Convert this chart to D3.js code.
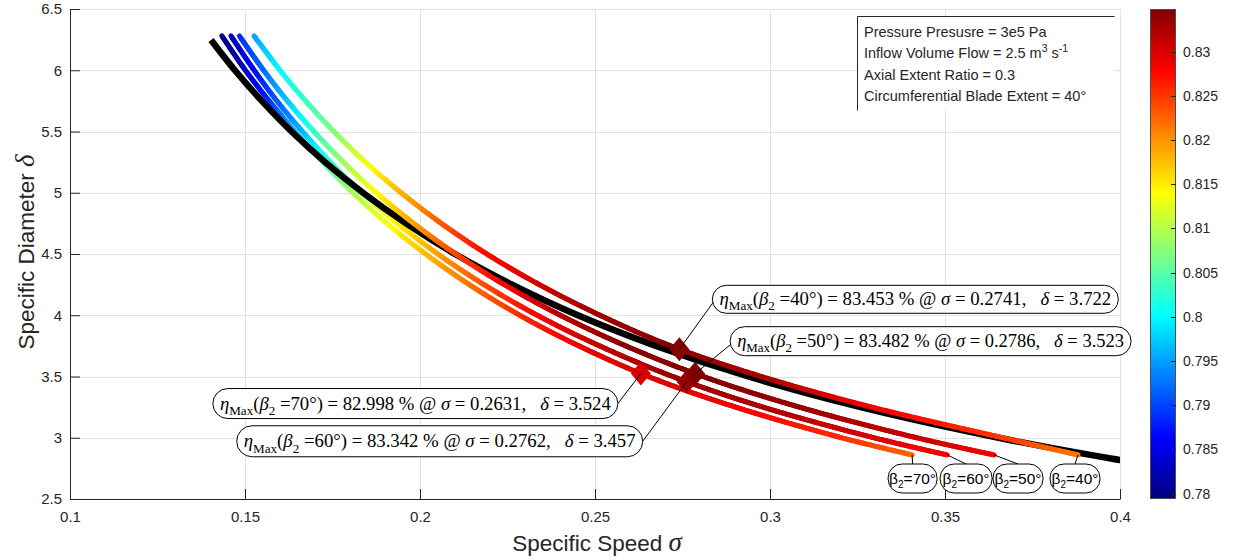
<!DOCTYPE html>
<html>
<head>
<meta charset="utf-8">
<script src="https://cdn.jsdelivr.net/npm/d3@7"></script>
<style>
  body { margin: 0; background: #fff; }
  svg { display: block; font-family: "Liberation Sans", Arial, Helvetica, sans-serif; }
</style>
</head>
<body>
<svg id="chart" width="1239" height="560"></svg>
<script>
// ---------------- data ----------------
// Outlet blade angles of the four rotor families
const betaAngles = [70, 60, 50, 40];

// Specific diameter stations shared by every rotor family
const deltaGrid = [6.28, 6.0, 5.75, 5.5, 5.25, 5.0, 4.75, 4.5, 4.25, 4.0, 3.75, 3.5, 3.25, 3.0, 2.86];

// Specific speed at each station
const sigma70 = [0.1434, 0.1501, 0.1569, 0.1643, 0.1723, 0.1809, 0.1906, 0.2016, 0.2141, 0.2285, 0.2454, 0.2652, 0.2902, 0.3205, 0.3406];
const sigma60 = [0.1460, 0.1526, 0.1591, 0.1664, 0.1744, 0.1834, 0.1936, 0.2051, 0.2183, 0.2335, 0.2513, 0.2722, 0.2980, 0.3297, 0.3506];
const sigma50 = [0.1484, 0.1553, 0.1621, 0.1697, 0.1781, 0.1875, 0.1982, 0.2102, 0.2241, 0.2401, 0.2588, 0.2809, 0.3084, 0.3419, 0.3640];
const sigma40 = [0.1526, 0.1600, 0.1673, 0.1754, 0.1844, 0.1946, 0.2061, 0.2191, 0.2341, 0.2514, 0.2716, 0.2975, 0.3290, 0.3665, 0.3880];

// Total-to-static efficiency at each station
const eta70 = [0.7795, 0.7835, 0.7885, 0.7965, 0.8035, 0.8090, 0.8135, 0.8175, 0.8215, 0.8255, 0.8285, 0.8299, 0.8285, 0.8255, 0.8225];
const eta60 = [0.7825, 0.7865, 0.7910, 0.7960, 0.8025, 0.8095, 0.8145, 0.8190, 0.8235, 0.8280, 0.8312, 0.8333, 0.8325, 0.8300, 0.8280];
const eta50 = [0.7885, 0.7920, 0.7970, 0.8025, 0.8085, 0.8140, 0.8190, 0.8240, 0.8280, 0.8318, 0.8340, 0.8348, 0.8335, 0.8310, 0.8285];
const eta40 = [0.7950, 0.8000, 0.8030, 0.8070, 0.8130, 0.8180, 0.8230, 0.8275, 0.8305, 0.8330, 0.8344, 0.8325, 0.8285, 0.8250, 0.8215];

// Cordier line
const cordierSigma = [0.1403, 0.1471, 0.1548, 0.1633, 0.1729, 0.1837, 0.1960, 0.2100, 0.2263, 0.2451, 0.2674, 0.2938, 0.3259, 0.3653, 0.4000, 0.4080];
const cordierDelta = [6.247, 6.0, 5.75, 5.5, 5.25, 5.0, 4.75, 4.5, 4.25, 4.0, 3.75, 3.5, 3.25, 3.0, 2.818, 2.78];

// Best-efficiency points
const peakEta   = [82.998, 83.342, 83.482, 83.453];
const peakSigma = [0.2631, 0.2762, 0.2786, 0.2741];
const peakDelta = [3.524, 3.457, 3.523, 3.722];

// Axis and colour bar ticks
const xTicks  = [0.1, 0.15, 0.2, 0.25, 0.3, 0.35, 0.4];
const yTicks  = [2.5, 3, 3.5, 4, 4.5, 5, 5.5, 6, 6.5];
const cbTicks = [0.78, 0.785, 0.79, 0.795, 0.8, 0.805, 0.81, 0.815, 0.82, 0.825, 0.83];
const etaLimits = [0.7794, 0.83482];

// Operating-point text
const infoLines = [
  [["Pressure Presusre = 3e5 Pa", ""]],
  [["Inflow Volume Flow = 2.5 m", ""], ["3", "sup"], [" s", ""], ["-1", "sup"]],
  [["Axial Extent Ratio = 0.3", ""]],
  [["Circumferential Blade Extent = 40\u00b0", ""]]
];

// ---------------- layout ----------------
const plot = { left: 70, right: 1120, top: 9, bottom: 499 };
const SANS = '"Liberation Sans", Arial, Helvetica, sans-serif';
const SERIF = '"Liberation Serif", "Times New Roman", serif';
const INK = "#262626";

const x = d3.scaleLinear().domain([0.1, 0.4]).range([plot.left, plot.right]);
const y = d3.scaleLinear().domain([2.5, 6.5]).range([plot.bottom, plot.top]);

// jet colormap
const jetPos = [0, 0.125, 0.375, 0.625, 0.875, 1];
const jetCol = ["#000080", "#0000ff", "#00ffff", "#ffff00", "#ff0000", "#800000"];
const jet = d3.scaleLinear().domain(jetPos).range(jetCol).clamp(true);
const etaNorm = d3.scaleLinear().domain(etaLimits).range([0, 1]).clamp(true);
const colorOf = v => jet(etaNorm(v));

const svg = d3.select("#chart");
const defs = svg.append("defs");
defs.append("clipPath").attr("id", "plotClip").append("rect")
  .attr("x", plot.left).attr("y", plot.top)
  .attr("width", plot.right - plot.left).attr("height", plot.bottom - plot.top);

// ---------------- grid ----------------
const grid = svg.append("g").attr("stroke", "#e2e2e2").attr("stroke-width", 1);
grid.selectAll("line.gx").data(xTicks).join("line").attr("class", "gx")
  .attr("x1", d => Math.round(x(d)) + 0.5).attr("x2", d => Math.round(x(d)) + 0.5)
  .attr("y1", plot.top).attr("y2", plot.bottom);
grid.selectAll("line.gy").data(yTicks).join("line").attr("class", "gy")
  .attr("y1", d => Math.round(y(d)) + 0.5).attr("y2", d => Math.round(y(d)) + 0.5)
  .attr("x1", plot.left).attr("x2", plot.right);

// ---------------- curves ----------------
const curveLayer = svg.append("g").attr("clip-path", "url(#plotClip)");
const families = [
  { beta: 70, sigma: sigma70, eta: eta70 },
  { beta: 60, sigma: sigma60, eta: eta60 },
  { beta: 50, sigma: sigma50, eta: eta50 },
  { beta: 40, sigma: sigma40, eta: eta40 }
];
const smooth = d3.line().curve(d3.curveCatmullRom.alpha(0.5));

// each family is stroked as short pieces so the colour can follow efficiency
function drawFamily(fam) {
  const g = curveLayer.append("g").attr("stroke-linecap", "round").attr("stroke-width", 5);
  const pts = fam.sigma.map((s, i) => [x(s), y(deltaGrid[i])]);
  const guide = g.append("path").attr("d", smooth(pts)).attr("fill", "none").attr("stroke", "none");
  const node = guide.node();
  const len = node.getTotalLength();
  const etaAt = d3.scaleLinear().domain(deltaGrid).range(fam.eta);
  const step = 2;
  const n = Math.ceil(len / step);
  let prev = node.getPointAtLength(0);
  for (let k = 1; k <= n; k++) {
    const p = node.getPointAtLength(Math.min(len, k * step));
    const dMid = y.invert((prev.y + p.y) / 2);
    g.append("line")
      .attr("x1", prev.x).attr("y1", prev.y).attr("x2", p.x).attr("y2", p.y)
      .attr("stroke", colorOf(etaAt(dMid)));
    prev = p;
  }
  guide.remove();
}

function drawCordier() {
  const pts = cordierSigma.map((s, i) => [x(s), y(cordierDelta[i])]);
  curveLayer.append("path").attr("d", smooth(pts))
    .attr("fill", "none").attr("stroke", "#000").attr("stroke-width", 6.5);
}

drawFamily(families[0]);
drawFamily(families[1]);
drawCordier();
drawFamily(families[2]);
drawFamily(families[3]);

// ---------------- axes ----------------
const xAxis = d3.axisBottom(x).tickValues(xTicks).tickSize(-10).tickSizeOuter(0).tickPadding(12)
  .tickFormat(d => String(+d.toFixed(2)));
const yAxis = d3.axisLeft(y).tickValues(yTicks).tickSize(-10).tickSizeOuter(0).tickPadding(8)
  .tickFormat(d => String(+d.toFixed(1)));
function styleAxis(g) {
  g.select(".domain").attr("stroke", INK);
  g.selectAll(".tick line").attr("stroke", INK);
  g.selectAll(".tick text").attr("fill", INK).attr("font-size", 15).attr("font-family", SANS);
}
svg.append("g").attr("transform", `translate(0,${plot.bottom})`).call(xAxis).call(styleAxis);
svg.append("g").attr("transform", `translate(${plot.left},0)`).call(yAxis).call(styleAxis);

// axis titles
const xt = svg.append("text").attr("x", 597).attr("y", 551).attr("text-anchor", "middle")
  .attr("fill", INK).attr("font-size", 22.5).attr("font-family", SANS);
xt.append("tspan").text("Specific Speed ");
xt.append("tspan").attr("font-family", SERIF).attr("font-style", "italic").attr("font-size", 27).text("\u03c3");

const yt = svg.append("text").attr("transform", "translate(34,252) rotate(-90)").attr("text-anchor", "middle")
  .attr("fill", INK).attr("font-size", 22.5).attr("font-family", SANS);
yt.append("tspan").text("Specific Diameter ");
yt.append("tspan").attr("font-family", SERIF).attr("font-style", "italic").attr("font-size", 27).text("\u03b4");

// ---------------- best-efficiency markers and call-outs ----------------
// call-out boxes, offset from each marker (px)
const calloutLayout = [
  { dx: -428, dy: 15, w: 405, h: 30, side: "left" },   // 70
  { dx: -450, dy: 44, w: 406, h: 31, side: "left" },   // 60
  { dx: 35,  dy: -47, w: 401, h: 29, side: "right" },  // 50
  { dx: 33,  dy: -64, w: 406, h: 28, side: "right" }   // 40
];

const markerLayer = svg.append("g");
const calloutLayer = svg.append("g");

function buildPeakText(t, i, fs) {
  t.selectAll("*").remove();
  t.attr("font-size", fs);
  const subShift = fs * 0.28;
  const segs = [
    ["\u03b7", "it"], ["Max", "sub"], ["(", ""], ["\u03b2", "it"], ["2", "sub"],
    [`\u00a0=${betaAngles[i]}\u00b0)\u00a0=\u00a0${peakEta[i].toFixed(3)}\u00a0%\u00a0@\u00a0`, ""],
    ["\u03c3", "it"], [`\u00a0=\u00a0${peakSigma[i].toFixed(4)},\u00a0\u00a0\u00a0`, ""],
    ["\u03b4", "it"], [`\u00a0=\u00a0${peakDelta[i].toFixed(3)}`, ""]
  ];
  let inSub = false;
  segs.forEach(([s, kind]) => {
    const ts = t.append("tspan").text(s);
    if (kind === "it") ts.attr("font-style", "italic");
    if (kind === "sub") {
      ts.attr("font-size", fs * 0.7);
      if (!inSub) ts.attr("dy", subShift);
      inSub = true;
    } else if (inSub) {
      ts.attr("dy", -subShift);
      inSub = false;
    }
  });
}

betaAngles.forEach((b, i) => {
  const mx = x(peakSigma[i]), my = y(peakDelta[i]);
  const L = calloutLayout[i];
  const bx = mx + L.dx, by = my + L.dy;
  // leader line end on the box outline
  const ax = L.side === "left" ? bx + L.w : bx + 1;
  const ay = L.side === "left" ? by + L.h / 2 : by + L.h * 0.6;
  // marker
  markerLayer.append("path")
    .attr("d", "M0,-12L10,0L0,12L-10,0Z")
    .attr("transform", `translate(${mx},${my})`)
    .attr("fill", colorOf(peakEta[i] / 100));
  calloutLayer.append("line").attr("x1", mx).attr("y1", my).attr("x2", ax).attr("y2", ay)
    .attr("stroke", "#000").attr("stroke-width", 1);
  calloutLayer.append("rect").attr("x", bx).attr("y", by).attr("width", L.w).attr("height", L.h)
    .attr("rx", L.h / 2).attr("ry", L.h / 2)
    .attr("fill", "#fff").attr("stroke", "#000").attr("stroke-width", 1);
  const t = calloutLayer.append("text").attr("x", bx + L.w / 2).attr("y", by + L.h * 0.7)
    .attr("text-anchor", "middle").attr("font-family", SERIF).attr("fill", "#000");
  let fs = 18;
  buildPeakText(t, i, fs);
  const target = L.w - 14;
  const len = t.node().getComputedTextLength();
  fs = fs * target / len;
  buildPeakText(t, i, fs);
});

// ---------------- end-of-curve tags ----------------
const tagLayout = [
  { dx: 0.5, w: 49 },   // 70
  { dx: 19,  w: 52 },   // 60
  { dx: 24,  w: 50 },   // 50
  { dx: -3,  w: 50 }    // 40
];
const tagTop = 464, tagH = 29;
const tagLayer = svg.append("g");
families.forEach((fam, i) => {
  const last = fam.sigma.length - 1;
  const ex = x(fam.sigma[last]), ey = y(deltaGrid[last]);
  const L = tagLayout[i];
  const cx = ex + L.dx;
  tagLayer.append("line").attr("x1", ex).attr("y1", ey).attr("x2", cx).attr("y2", tagTop)
    .attr("stroke", "#000").attr("stroke-width", 1);
  tagLayer.append("rect").attr("x", cx - L.w / 2).attr("y", tagTop).attr("width", L.w).attr("height", tagH)
    .attr("rx", 14).attr("ry", 14).attr("fill", "#fff").attr("stroke", "#000").attr("stroke-width", 1);
  const t = tagLayer.append("text").attr("x", cx).attr("y", tagTop + 20).attr("text-anchor", "middle")
    .attr("font-size", 15.5).attr("fill", "#000");
  t.append("tspan").text("\u03b2");
  t.append("tspan").attr("font-size", 10).attr("dy", 3.5).text("2");
  t.append("tspan").attr("dy", -3.5).text(`=${fam.beta}\u00b0`);
});

// ---------------- operating point box ----------------
const info = svg.append("g");
const ib = { x: 857.5, y: 16.5, w: 257, h: 94 };
info.append("rect").attr("x", ib.x).attr("y", ib.y).attr("width", ib.w).attr("height", ib.h).attr("fill", "#fff");
info.append("line").attr("x1", ib.x).attr("x2", ib.x + ib.w).attr("y1", ib.y).attr("y2", ib.y).attr("stroke", INK);
info.append("line").attr("x1", ib.x).attr("x2", ib.x).attr("y1", ib.y).attr("y2", ib.y + ib.h).attr("stroke", INK);
infoLines.forEach((parts, k) => {
  const t = info.append("text").attr("x", 864).attr("y", 37 + k * 21.3)
    .attr("font-size", 14.5).attr("fill", INK);
  let up = false;
  parts.forEach(([s, kind]) => {
    const ts = t.append("tspan").text(s);
    if (kind === "sup") { ts.attr("font-size", 10.5); ts.attr("dy", up ? 0 : -6); up = true; }
    else if (up) { ts.attr("dy", 6); up = false; }
  });
});

// ---------------- colour bar ----------------
const cb = { x: 1150, w: 26 };
const cbScale = d3.scaleLinear().domain(etaLimits).range([plot.bottom, plot.top]);
const grad = defs.append("linearGradient").attr("id", "jetGrad")
  .attr("x1", 0).attr("y1", 1).attr("x2", 0).attr("y2", 0);
jetPos.forEach((p, i) => grad.append("stop").attr("offset", p).attr("stop-color", jetCol[i]));
svg.append("rect").attr("x", cb.x).attr("y", plot.top).attr("width", cb.w).attr("height", plot.bottom - plot.top)
  .attr("fill", "url(#jetGrad)");
svg.append("rect").attr("x", cb.x + 0.5).attr("y", plot.top + 0.5).attr("width", cb.w - 1).attr("height", plot.bottom - plot.top - 1)
  .attr("fill", "none").attr("stroke", "#4d4d4d").attr("stroke-width", 1);
const cbg = svg.append("g");
cbg.selectAll("line").data(cbTicks).join("line")
  .attr("x1", cb.x + cb.w - 5).attr("x2", cb.x + cb.w)
  .attr("y1", d => Math.round(cbScale(d)) + 0.5).attr("y2", d => Math.round(cbScale(d)) + 0.5)
  .attr("stroke", INK);
cbg.selectAll("text").data(cbTicks).join("text")
  .attr("x", cb.x + cb.w + 7).attr("y", d => cbScale(d) + 5)
  .attr("font-size", 14).attr("fill", INK)
  .text(d => String(+d.toFixed(3)));
</script>
</body>
</html>
